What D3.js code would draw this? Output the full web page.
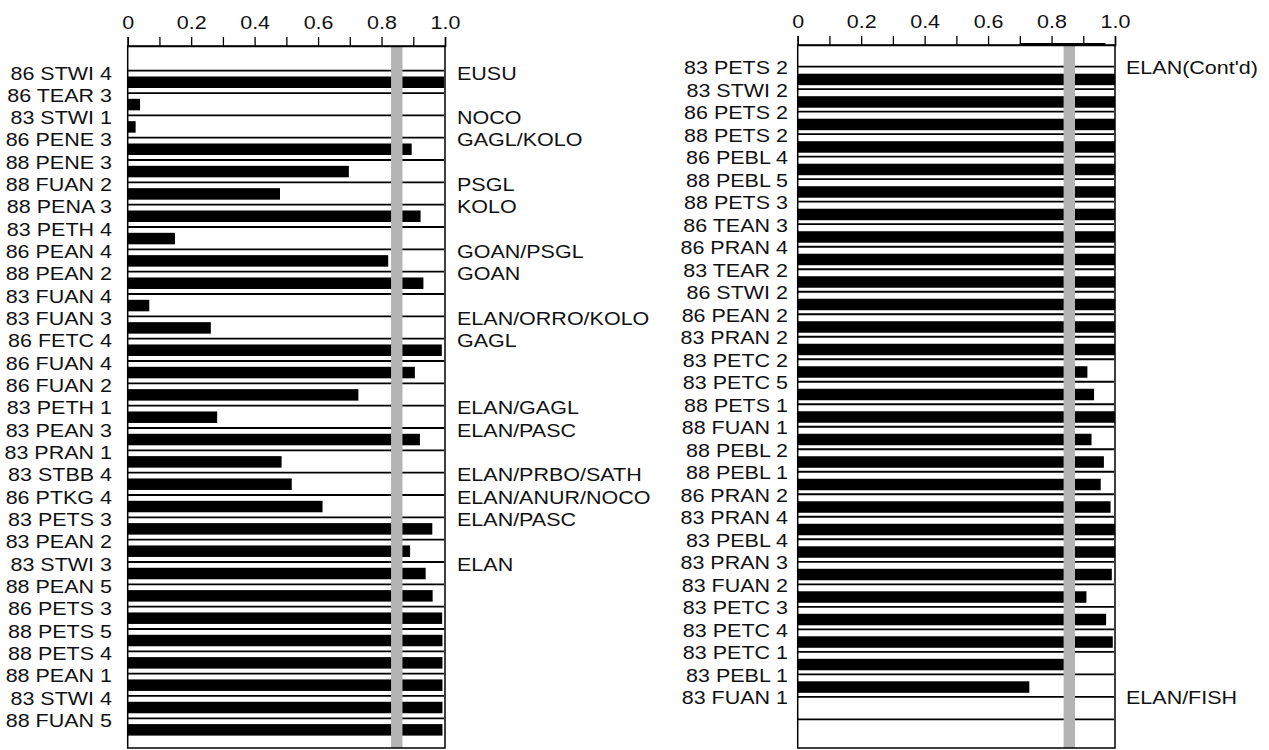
<!DOCTYPE html>
<html>
<head>
<meta charset="utf-8">
<script src="https://cdn.jsdelivr.net/npm/d3@7"></script>
<style>
  html, body { margin: 0; padding: 0; background: #fff; }
  svg text { font-family: "Liberation Sans", Arial, Helvetica, sans-serif; fill: #111; }
</style>
</head>
<body>
<div id="chart"></div>
<script>
// left panel
const leftLabels = ["86 STWI 4", "86 TEAR 3", "83 STWI 1", "86 PENE 3", "88 PENE 3", "88 FUAN 2",
  "88 PENA 3", "83 PETH 4", "86 PEAN 4", "88 PEAN 2", "83 FUAN 4", "83 FUAN 3", "86 FETC 4",
  "86 FUAN 4", "86 FUAN 2", "83 PETH 1", "83 PEAN 3", "83 PRAN 1", "83 STBB 4", "86 PTKG 4",
  "83 PETS 3", "83 PEAN 2", "83 STWI 3", "88 PEAN 5", "86 PETS 3", "88 PETS 5", "88 PETS 4",
  "88 PEAN 1", "83 STWI 4", "88 FUAN 5"];
const leftValues = [0.997, 0.039, 0.025, 0.895, 0.697, 0.48, 0.923, 0.149, 0.821, 0.932,
  0.068, 0.262, 0.99, 0.905, 0.727, 0.282, 0.921, 0.485, 0.517, 0.614,
  0.96, 0.89, 0.939, 0.961, 0.991, 0.992, 0.992, 0.992, 0.992, 0.992];
// group labels: [row index, text]
const leftGroups = [[0, "EUSU"], [2, "NOCO"], [3, "GAGL/KOLO"], [5, "PSGL"], [6, "KOLO"],
  [8, "GOAN/PSGL"], [9, "GOAN"], [11, "ELAN/ORRO/KOLO"], [12, "GAGL"], [15, "ELAN/GAGL"],
  [16, "ELAN/PASC"], [18, "ELAN/PRBO/SATH"], [19, "ELAN/ANUR/NOCO"], [20, "ELAN/PASC"], [22, "ELAN"]];
const leftBand = [0.83, 0.866];

// right panel
const rightLabels = ["83 PETS 2", "83 STWI 2", "86 PETS 2", "88 PETS 2", "86 PEBL 4", "88 PEBL 5",
  "88 PETS 3", "86 TEAN 3", "86 PRAN 4", "83 TEAR 2", "86 STWI 2", "86 PEAN 2", "83 PRAN 2",
  "83 PETC 2", "83 PETC 5", "88 PETS 1", "88 FUAN 1", "88 PEBL 2", "88 PEBL 1", "86 PRAN 2",
  "83 PRAN 4", "83 PEBL 4", "83 PRAN 3", "83 FUAN 2", "83 PETC 3", "83 PETC 4", "83 PETC 1",
  "83 PEBL 1", "83 FUAN 1"];
const rightValues = [1, 1, 1, 1, 1, 1, 1, 1, 1, 1, 1, 1, 1,
  0.913, 0.934, 1, 0.926, 0.965, 0.955, 0.986, 1, 1, 0.99,
  0.91, 0.972, 0.993, 0.84, 0.73, 0];
const rightGroups = [[0, "ELAN(Cont'd)"], [28, "ELAN/FISH"]];
const rightBand = [0.838, 0.874];

const tickValues = d3.range(0, 11).map(i => i / 10);
const tickLabels = ["0", "", "0.2", "", "0.4", "", "0.6", "", "0.8", "", "1.0"];

const width = 1269, height = 750;
const fontSize = 19.2, stretch = 1.12;

const svg = d3.select("#chart").append("svg")
  .attr("width", width)
  .attr("height", height)
  .style("display", "block");

svg.append("rect").attr("width", width).attr("height", height).attr("fill", "#fff");

function panel(opts) {
  const x = d3.scaleLinear().domain([0, 1]).range([opts.x0, opts.x0 + 317.3]);
  // one line per row, plus any trailing empty row
  const rows = d3.range(opts.nRows);
  const y = d3.scalePoint().domain(rows).range(opts.yRange);

  const g = svg.append("g");

  // separator lines
  g.selectAll("line.sep")
    .data(rows)
    .join("line")
    .attr("class", "sep")
    .attr("x1", x(0)).attr("x2", x(1) - 1)
    .attr("y1", d => y(d)).attr("y2", d => y(d))
    .attr("stroke", "#000")
    .attr("stroke-width", 1.8);

  // bars
  g.selectAll("rect.bar")
    .data(opts.values)
    .join("rect")
    .attr("class", "bar")
    .attr("x", x(0))
    .attr("y", (d, i) => y(i) + opts.barOffset)
    .attr("width", d => x(d) - x(0))
    .attr("height", 11.5)
    .attr("fill", "#000");

  // criterion band on top
  g.append("rect")
    .attr("x", x(opts.band[0]))
    .attr("y", opts.top)
    .attr("width", x(opts.band[1]) - x(opts.band[0]))
    .attr("height", opts.bottom - opts.top)
    .attr("fill", "#b4b4b4");

  // frame
  g.append("rect")
    .attr("x", x(0)).attr("y", opts.top)
    .attr("width", x(1) - x(0))
    .attr("height", opts.bottom - opts.top)
    .attr("fill", "none")
    .attr("stroke", "#000")
    .attr("stroke-width", 1.5);

  // top axis
  const axis = d3.axisTop(x)
    .tickValues(tickValues)
    .tickSize(9)
    .tickPadding(8.5)
    .tickFormat((d, i) => tickLabels[i]);
  const ag = g.append("g")
    .attr("transform", `translate(0,${opts.top})`)
    .call(axis);
  ag.select(".domain").attr("stroke-width", 1.5);
  ag.selectAll(".tick line").attr("stroke-width", 1.3);
  ag.selectAll(".tick text")
    .attr("transform", `scale(${stretch},1)`)
    .style("font-size", fontSize + "px")
    .style("font-family", "'Liberation Sans', Arial, sans-serif")
    .attr("fill", "#111");

  if (opts.topMark) {
    g.append("line")
      .attr("x1", x(opts.topMark[0])).attr("x2", x(opts.topMark[1]))
      .attr("y1", opts.top - 1).attr("y2", opts.top - 1)
      .attr("stroke", "#000").attr("stroke-width", 2);
  }

  // row labels
  g.selectAll("text.row")
    .data(opts.labels)
    .join("text")
    .attr("class", "row")
    .attr("text-anchor", "end")
    .attr("transform", (d, i) => `translate(${opts.labelX},${y(i) + opts.labelShift + 6.8}) scale(${stretch},1)`)
    .style("font-size", fontSize + "px")
    .text(d => d);

  // group labels
  g.selectAll("text.grp")
    .data(opts.groups)
    .join("text")
    .attr("class", "grp")
    .attr("text-anchor", "start")
    .attr("transform", d => `translate(${opts.groupX},${y(d[0]) + opts.labelShift + 6.8}) scale(${stretch},1)`)
    .style("font-size", fontSize + "px")
    .text(d => d[1]);
}

panel({
  x0: 127.7, top: 46, bottom: 748,
  nRows: leftLabels.length, yRange: [70.7, 718.3], barOffset: 5.8,
  labels: leftLabels, values: leftValues, groups: leftGroups, band: leftBand,
  labelX: 112, groupX: 457, labelShift: 2
});

panel({
  x0: 797.7, top: 45, bottom: 748,
  nRows: rightLabels.length + 1, yRange: [66.7, 719.3], barOffset: 7,
  labels: rightLabels, values: rightValues, groups: rightGroups, band: rightBand,
  labelX: 788, groupX: 1126, labelShift: 0.5, topMark: [0.7, 0.97]
});
</script>
</body>
</html>
